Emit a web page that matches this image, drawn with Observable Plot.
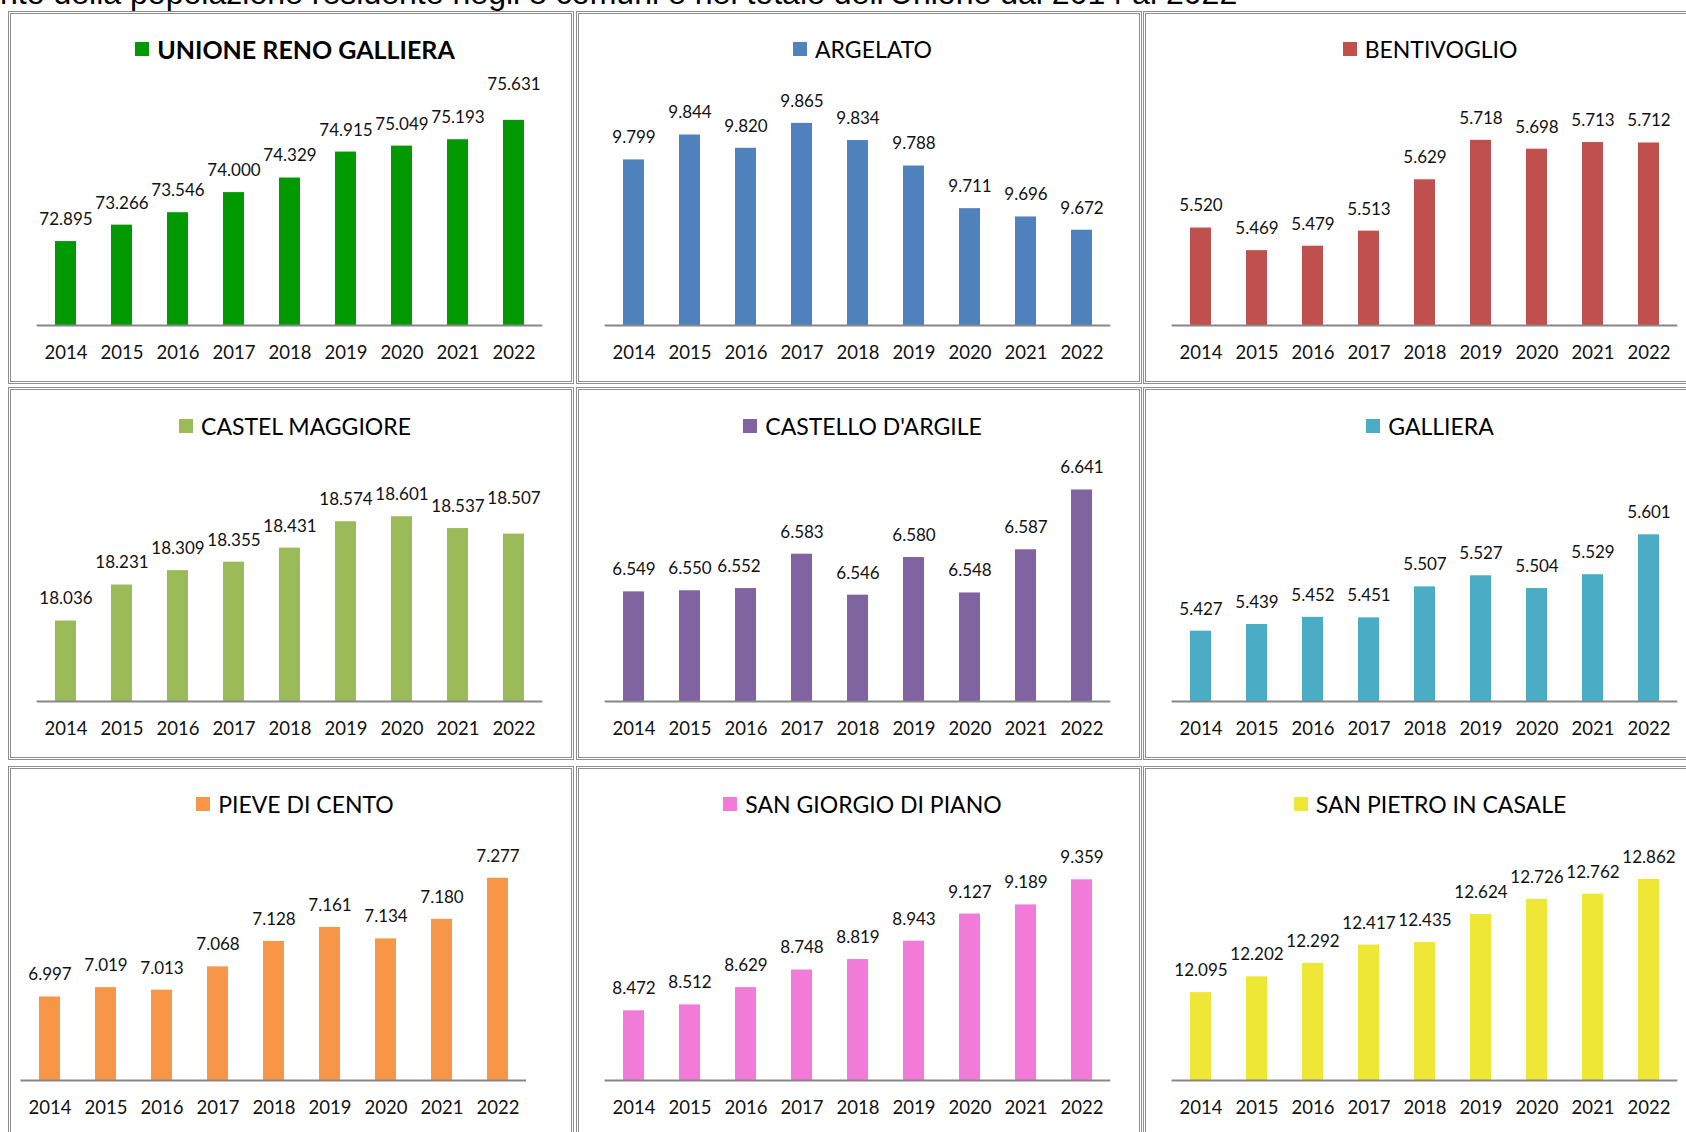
<!DOCTYPE html>
<html><head><meta charset="utf-8">
<script src="https://cdn.jsdelivr.net/npm/d3@7"></script>
<script src="https://cdn.jsdelivr.net/npm/@observablehq/plot@0.6"></script>
<style>
html,body{margin:0;padding:0;background:#fff;overflow:hidden;width:1686px;height:1132px;}
#page{position:relative;width:1686px;height:1132px;overflow:hidden;background:#fff;}
#pagetitle{position:absolute;white-space:nowrap;font-family:"Liberation Sans",Arial,sans-serif;line-height:1;color:#000;}
.panel{position:absolute;width:566px;height:373px;}
.frame{position:absolute;left:0;top:0;right:0;bottom:0;border:3px double #8e8e8e;box-sizing:border-box;}
.ttl{position:absolute;left:4px;width:566px;height:30px;display:flex;justify-content:center;align-items:center;gap:8px;font-family:Lato,sans-serif;color:#000;white-space:nowrap;}
.ttl .sq{width:14px;height:14px;flex:none;}
.panel svg{position:absolute;left:0;top:0;}
</style>
</head><body>
<div id="page"></div>
<script>
// ---- data ----
const years = [2014, 2015, 2016, 2017, 2018, 2019, 2020, 2021, 2022];
const names = ["UNIONE RENO GALLIERA", "ARGELATO", "BENTIVOGLIO", "CASTEL MAGGIORE", "CASTELLO D'ARGILE", "GALLIERA", "PIEVE DI CENTO", "SAN GIORGIO DI PIANO", "SAN PIETRO IN CASALE"];
const unione = [72895, 73266, 73546, 74000, 74329, 74915, 75049, 75193, 75631];
const argelato = [9799, 9844, 9820, 9865, 9834, 9788, 9711, 9696, 9672];
const bentivoglio = [5520, 5469, 5479, 5513, 5629, 5718, 5698, 5713, 5712];
const castelMaggiore = [18036, 18231, 18309, 18355, 18431, 18574, 18601, 18537, 18507];
const castelloArgile = [6549, 6550, 6552, 6583, 6546, 6580, 6548, 6587, 6641];
const galliera = [5427, 5439, 5452, 5451, 5507, 5527, 5504, 5529, 5601];
const pieveCento = [6997, 7019, 7013, 7068, 7128, 7161, 7134, 7180, 7277];
const sanGiorgio = [8472, 8512, 8629, 8748, 8819, 8943, 9127, 9189, 9359];
const sanPietro = [12095, 12202, 12292, 12417, 12435, 12624, 12726, 12762, 12862];
const yMin = [71000, 9500, 5300, 17600, 6450, 5300, 6800, 8000, 11500];
const yMax = [76000, 9900, 5800, 18800, 6650, 5700, 7300, 9500, 13000];
const pageTitleText = "Andamento della popolazione residente negli 8 comuni e nel totale dell'Unione dal 2014 al 2022";

// ---- styles / layout ----
const series = [unione, argelato, bentivoglio, castelMaggiore, castelloArgile, galliera, pieveCento, sanGiorgio, sanPietro];
const colors = ["#009900", "#4F81BD", "#C0504D", "#9BBB59", "#8064A2", "#4BACC6", "#F79646", "#F27AD9", "#EEE735"];
const colLeft = [8, 575.5, 1143];
const rowTop = [10.5, 387, 765.5];
const PW = 566, PH = 373;
// labels that the reference places off their default spot: [panel, year, dx, dy]
const labelShift = [[0, "2022", 0, -36], [3, "2022", 0, -36], [4, "2016", -7, -22]];

const itLocale = d3.formatLocale({decimal: ",", thousands: ".", grouping: [3], currency: ["", " €"]});
const fmt = itLocale.format(",d");

const page = document.getElementById("page");

// page title (clipped at top, as in the reference)
const pt = document.createElement("div");
pt.id = "pagetitle";
pt.textContent = pageTitleText;
page.appendChild(pt);
{
  const ctx = document.createElement("canvas").getContext("2d");
  ctx.font = '100px "Liberation Sans"';
  const vis = pageTitleText.slice(6);
  const wVis = ctx.measureText(vis).width;
  const size = 1238 * 100 / wVis;
  const pre = ctx.measureText(pageTitleText.slice(0, 6)).width * size / 100;
  pt.style.fontSize = size + "px";
  pt.style.left = (-pre) + "px";
  pt.style.top = (4.5 - 0.8465 * size) + "px";
}

series.forEach((vals, i) => {
  const col = i % 3, row = Math.floor(i / 3);
  const isPieve = i === 6;
  const ml = isPieve ? 12.5 : 28.6;
  const mr = isPieve ? 48 : 31.7;
  const plotH = isPieve ? 212 : 221.5;
  const baseY = 314;
  const data = years.map((y, k) => ({year: String(y), value: vals[k]}));
  const domain = [yMin[i], yMax[i]];
  const shifts = labelShift.filter(s => s[0] === i);
  const shiftedYears = new Set(shifts.map(s => s[1]));
  const normal = data.filter(d => !shiftedYears.has(d.year));
  const labelFont = {fontSize: 17, fill: "#111"};
  const marks = [
    Plot.barY(data, {x: "year", y1: domain[0], y2: "value", fill: colors[i]}),
    Plot.ruleY([domain[0]], {stroke: "#878787", strokeWidth: 2}),
    Plot.text(normal, {x: "year", y: "value", text: d => fmt(d.value), dy: -22, ...labelFont}),
    Plot.axisX({tickSize: 0, tickPadding: 20.5, fontSize: 18.5, fill: "#111", label: null})
  ];
  shifts.forEach(([, yr, dx, dy]) => {
    marks.push(Plot.text(data.filter(d => d.year === yr), {x: "year", y: "value", text: d => fmt(d.value), dx, dy, ...labelFont}));
  });
  const svg = Plot.plot({
    width: PW, height: PH,
    marginLeft: ml, marginRight: mr, marginTop: baseY - plotH, marginBottom: PH - baseY,
    x: {domain: years.map(String), paddingInner: 0.63, paddingOuter: 0.315, axis: null},
    y: {domain, axis: null},
    style: {fontFamily: "Lato, sans-serif", background: "transparent", color: "#111", overflow: "visible"},
    marks
  });
  const p = document.createElement("div");
  p.className = "panel";
  p.style.left = colLeft[col] + "px";
  p.style.top = rowTop[row] + "px";
  const fr = document.createElement("div");
  fr.className = "frame";
  p.appendChild(fr);
  const t = document.createElement("div");
  t.className = "ttl";
  t.style.top = (38.7 - 15) + "px";
  const sq = document.createElement("span");
  sq.className = "sq";
  sq.style.background = colors[i];
  const tx = document.createElement("span");
  tx.textContent = names[i];
  tx.style.fontSize = i === 0 ? "25px" : "23px";
  tx.style.fontWeight = i === 0 ? "700" : "400";
  t.appendChild(sq); t.appendChild(tx);
  p.appendChild(t);
  p.appendChild(svg);
  page.appendChild(p);
});
</script>
</body></html>
